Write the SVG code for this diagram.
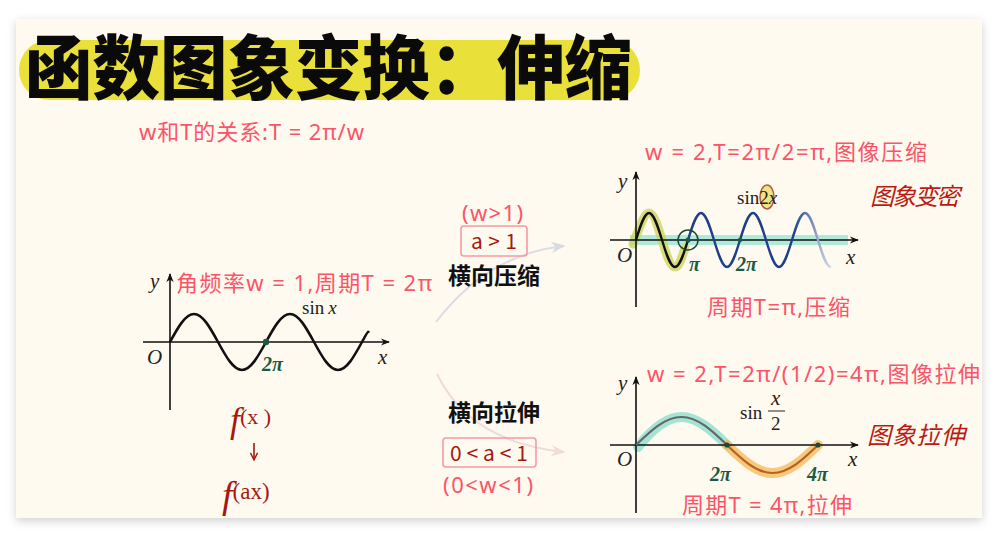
<svg xmlns="http://www.w3.org/2000/svg" width="1001" height="537" viewBox="0 0 1001 537">
<defs>
<filter id="sh" x="-5%" y="-5%" width="110%" height="112%"><feDropShadow dx="0" dy="3" stdDeviation="5" flood-color="#000" flood-opacity="0.18"/></filter>
<marker id="ax" viewBox="0 0 10 10" refX="9" refY="5" markerWidth="9" markerHeight="9" markerUnits="userSpaceOnUse" orient="auto"><path d="M0,1 L10,5 L0,9 L3,5 z" fill="#111"/></marker>
<marker id="ga" viewBox="0 0 10 10" refX="9" refY="5" markerWidth="14" markerHeight="14" markerUnits="userSpaceOnUse" orient="auto"><path d="M0,1 L10,5 L0,9 L3,5 z" fill="#d9d9e2"/></marker>
<marker id="pa" viewBox="0 0 10 10" refX="9" refY="5" markerWidth="14" markerHeight="14" markerUnits="userSpaceOnUse" orient="auto"><path d="M0,1 L10,5 L0,9 L3,5 z" fill="#f0dcd8"/></marker>
<marker id="ra" viewBox="0 0 10 10" refX="8" refY="5" markerWidth="9" markerHeight="9" markerUnits="userSpaceOnUse" orient="auto"><path d="M1,1 L9,5 L1,9" fill="none" stroke="#a3190f" stroke-width="1.6"/></marker>
<linearGradient id="fade" gradientUnits="userSpaceOnUse" x1="688" y1="0" x2="834" y2="0"><stop offset="0.72" stop-color="#1d3f8c"/><stop offset="1" stop-color="#e6e8f0"/></linearGradient>
<style>
.pk{font-family:"Noto Sans","Noto Sans CJK SC",sans-serif;font-size:22px;fill:#fb5468}
.mi{font-family:"Liberation Serif",serif;font-style:italic;font-size:21px;fill:#222}
.rm{font-family:"Liberation Serif",serif;font-size:19px;fill:#222}
.gr{font-family:"Liberation Serif",serif;font-style:italic;font-weight:bold;font-size:20px;fill:#1b5a43}
.hw{font-family:"Noto Sans CJK SC",sans-serif;font-size:21px;fill:#a3190f}
.cal{font-family:"Noto Sans CJK SC",sans-serif;font-size:24px;fill:#b81c12;font-style:italic}
.bk{font-family:"Noto Sans CJK SC",sans-serif;font-weight:bold;font-size:23px;fill:#111}
.axis{stroke:#111;stroke-width:1.6;fill:none}
.box{fill:none;stroke:#f59aa4;stroke-width:1.6}
</style>
</defs>
<rect width="1001" height="537" fill="#ffffff"/>
<rect x="16" y="19" width="966" height="499" fill="#fffaef" filter="url(#sh)"/>

<g id="title">
<rect x="19" y="40" width="621" height="60" rx="30" fill="#e9e139"/>
<text x="25" y="94" font-family="Noto Sans CJK SC,sans-serif" font-weight="900" font-size="70" fill="#0a0a0a" textLength="607" lengthAdjust="spacingAndGlyphs">函数图象变换：伸缩</text>
</g>
<g id="relation"><text class="pk" x="139" y="140" textLength="225">w和T的关系:T = 2π/w</text></g>

<g id="connectors">
<path d="M436,322 Q488,254 564,246" fill="none" stroke="#dcdce4" stroke-width="2" marker-end="url(#ga)"/>
<path d="M437,374 Q470,442 564,452" fill="none" stroke="#efdcd8" stroke-width="2" marker-end="url(#pa)"/>
</g>

<g id="graph-base">
<path class="axis" d="M170,410 V274" marker-end="url(#ax)"/>
<path class="axis" d="M143,342 H389" marker-end="url(#ax)"/>
<path d="M170,342 C177.8,327.7 185.4,314 194,314 S210.2,327.7 218,342 S233.4,370 242,370 S258.2,356.3 266,342 S281.4,314 290,314 S306.2,327.7 314,342 S329.4,370 338,370 S354.2,356.3 362,342 S367,334 369,331" fill="none" stroke="#111" stroke-width="2.6"/>
<circle cx="266" cy="342" r="3.2" fill="#1b5a43"/>
<text class="mi" x="150" y="288">y</text>
<text class="mi" x="147" y="364">O</text>
<text class="mi" x="378" y="364">x</text>
<text class="rm" x="302" y="314">sin<tspan font-style="italic" dx="4">x</tspan></text>
<text class="gr" x="262" y="371">2π</text>
<text class="pk" x="176" y="291" textLength="256">角频率w = 1,周期T = 2π</text>
</g>

<g id="fx">
<text x="230" y="432" font-family="Liberation Serif,serif" font-style="italic" fill="#a3190f"><tspan font-size="36">f</tspan><tspan font-size="22" font-style="normal" dy="-8">(x )</tspan></text>
<path d="M254,443 V459" stroke="#a3190f" stroke-width="1.6" marker-end="url(#ra)"/>
<text x="222" y="508" font-family="Liberation Serif,serif" font-style="italic" fill="#a3190f"><tspan font-size="38">f</tspan><tspan font-size="23" font-style="normal" dy="-9">(ax)</tspan></text>
</g>

<g id="compress-label">
<text class="pk" x="462" y="221" textLength="61">(w&gt;1)</text>
<rect class="box" x="461" y="226" width="66" height="30" rx="3"/>
<text class="hw" x="471" y="249" textLength="46">a &gt; 1</text>
<text class="bk" x="448" y="284" textLength="92">横向压缩</text>
</g>

<g id="stretch-label">
<text class="bk" x="448" y="421" textLength="92">横向拉伸</text>
<rect class="box" x="443" y="438" width="93" height="29" rx="3"/>
<text class="hw" x="450" y="461" textLength="78">0 &lt; a &lt; 1</text>
<text class="pk" x="443" y="493" textLength="90">(0&lt;w&lt;1)</text>
</g>

<g id="graph-compress">
<text class="pk" x="645" y="160" textLength="282">w = 2,T=2π/2=π,图像压缩</text>
<rect x="630" y="235" width="218" height="10" fill="#8fe3d2" opacity="0.7"/>
<path d="M633,244 C640.2,226.2 644.3,213 649,213 S657.8,226.2 662,240 S670.3,267 675,267 S682,256 685,248" fill="none" stroke="#c9d35a" stroke-width="9" opacity="0.75" stroke-linecap="round"/>
<path class="axis" d="M636,307 V172" marker-end="url(#ax)"/>
<path class="axis" d="M610,240 H858" marker-end="url(#ax)"/>
<path d="M636,240 C640.2,226.2 644.3,213 649,213 S657.8,226.2 662,240 S670.3,267 675,267 S683.8,253.8 688,240" fill="none" stroke="#111" stroke-width="2.4"/>
<path d="M688,240 C692.2,226.2 696.3,213 701,213 S709.8,226.2 714,240 S722.3,267 727,267 S735.8,253.8 740,240 S748.3,213 753,213 S761.8,226.2 766,240 S774.3,267 779,267 S787.8,253.8 792,240 S800.3,213 805,213 S813.8,226.2 818,240 S826.3,267 831,267" fill="none" stroke="url(#fade)" stroke-width="2.4"/>
<circle cx="688" cy="240" r="10" fill="none" stroke="#1b4a38" stroke-width="1.5"/>
<circle cx="688" cy="240" r="2.6" fill="#1b5a43"/>
<circle cx="740" cy="240" r="2.2" fill="#1b5a43"/>
<ellipse cx="767" cy="197" rx="7" ry="12" fill="#e9df6a" opacity="0.8" stroke="#a3301c" stroke-width="1.5"/>
<text class="rm" x="737" y="204">sin2<tspan font-style="italic">x</tspan></text>
<text class="mi" x="618" y="188">y</text>
<text class="mi" x="617" y="262">O</text>
<text class="mi" x="846" y="264">x</text>
<text class="gr" x="689" y="271">π</text>
<text class="gr" x="736" y="271">2π</text>
<text class="pk" x="707" y="315" textLength="143">周期T=π,压缩</text>
<text class="cal" x="870" y="205" textLength="90">图象变密</text>
</g>

<g id="graph-stretch">
<text class="pk" x="647" y="382" textLength="333">w = 2,T=2π/(1/2)=4π,图像拉伸</text>
<path d="M638,447 C650.8,430.7 665.1,417 681.5,417 S712.2,430.7 727,445" fill="none" stroke="#86dccb" stroke-width="10" opacity="0.75" stroke-linecap="round"/>
<path d="M727,445 C741.8,459.3 756.1,473 772.5,473 S803.2,459.3 818,445" fill="none" stroke="#f6b24f" stroke-width="10" opacity="0.7" stroke-linecap="round"/>
<path class="axis" d="M636,513 V377" marker-end="url(#ax)"/>
<path class="axis" d="M610,445 H858" marker-end="url(#ax)"/>
<path d="M636,445 C650.8,430.7 665.1,417 681.5,417 S712.2,430.7 727,445" fill="none" stroke="#666" stroke-width="2.2"/>
<path d="M727,445 C741.8,459.3 756.1,473 772.5,473 S803.2,459.3 818,445" fill="none" stroke="#b5631b" stroke-width="2.2"/>
<circle cx="727" cy="445" r="2.6" fill="#1b4a38"/>
<circle cx="818" cy="445" r="2.6" fill="#1b4a38"/>
<text class="rm" x="740" y="419">sin</text>
<text class="mi" x="771" y="405" font-size="19">x</text>
<line x1="768" y1="411" x2="785" y2="411" stroke="#222" stroke-width="1"/>
<text class="rm" x="771" y="430">2</text>
<text class="mi" x="618" y="390">y</text>
<text class="mi" x="617" y="466">O</text>
<text class="mi" x="848" y="466">x</text>
<text class="gr" x="710" y="481">2π</text>
<text class="gr" x="807" y="481">4π</text>
<text class="pk" x="682" y="513" textLength="170">周期T = 4π,拉伸</text>
<text class="cal" x="867" y="444" font-size="26" textLength="98">图象拉伸</text>
</g>
</svg>
